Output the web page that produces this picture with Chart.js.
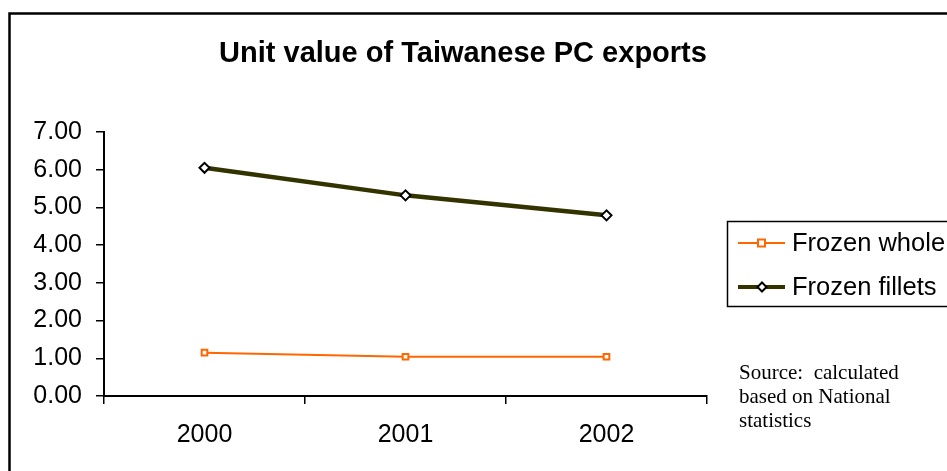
<!DOCTYPE html>
<html>
<head>
<meta charset="utf-8">
<script src="https://cdn.jsdelivr.net/npm/chart.js@4.4.1/dist/chart.umd.min.js"></script>
<style>
html,body{margin:0;padding:0;background:#fff;}
#wrap{position:relative;width:947px;height:471px;}
</style>
</head>
<body>
<div id="wrap"><canvas id="c" width="947" height="471"></canvas></div>
<script>
const title = "Unit value of Taiwanese PC exports";
const categories = ["2000", "2001", "2002"];
const frozenWhole = [1.15, 1.04, 1.04];
const frozenFillets = [6.05, 5.32, 4.79];
const seriesNames = ["Frozen whole", "Frozen fillets"];
const sourceLines = ["Source:  calculated", "based on National", "statistics"];

const WHOLE = "#FF6600";
const FILLET = "#333300";

const decor = {
  id: "decor",
  beforeDraw(chart) {
    const ctx = chart.ctx;
    ctx.save();
    ctx.fillStyle = "#fff";
    ctx.fillRect(0, 0, chart.width, chart.height);
    ctx.strokeStyle = "#000";
    ctx.lineWidth = 2.5;
    ctx.strokeRect(9.5, 13.5, 1000, 1000);
    ctx.restore();
  },
  afterDraw(chart) {
    const ctx = chart.ctx;
    ctx.save();
    // title
    ctx.fillStyle = "#000";
    ctx.font = "bold 29px 'Liberation Sans', Arial, sans-serif";
    ctx.textAlign = "center";
    ctx.textBaseline = "middle";
    ctx.fillText(title, 463, 54);
    // legend box
    ctx.lineWidth = 1.5;
    ctx.strokeStyle = "#000";
    ctx.strokeRect(727.5, 221.5, 240, 85);
    const rows = [
      {y: 243, color: WHOLE, w: 2, style: "rect"},
      {y: 287, color: FILLET, w: 4, style: "rectRot"}
    ];
    rows.forEach((r, i) => {
      ctx.beginPath();
      ctx.strokeStyle = r.color;
      ctx.lineWidth = r.w;
      ctx.moveTo(738, r.y);
      ctx.lineTo(785, r.y);
      ctx.stroke();
      ctx.fillStyle = "#fff";
      ctx.lineWidth = 2;
      if (r.style === "rect") {
        ctx.strokeStyle = WHOLE;
        ctx.fillRect(758, r.y - 3.5, 7, 7);
        ctx.strokeRect(758, r.y - 3.5, 7, 7);
      } else {
        ctx.strokeStyle = "#000";
        ctx.beginPath();
        ctx.moveTo(762, r.y - 4.5);
        ctx.lineTo(766.5, r.y);
        ctx.lineTo(762, r.y + 4.5);
        ctx.lineTo(757.5, r.y);
        ctx.closePath();
        ctx.fill();
        ctx.stroke();
      }
      ctx.fillStyle = "#000";
      ctx.font = "25.5px 'Liberation Sans', Arial, sans-serif";
      ctx.textAlign = "left";
      ctx.textBaseline = "middle";
      ctx.fillText(seriesNames[i], 792, r.y + 1);
    });
    // source
    ctx.font = "21px 'Liberation Serif', 'Times New Roman', serif";
    ctx.textAlign = "left";
    ctx.textBaseline = "middle";
    sourceLines.forEach((s, i) => ctx.fillText(s, 739, 373 + i * 24));
    ctx.restore();
  }
};

new Chart(document.getElementById("c"), {
  type: "line",
  data: {
    labels: categories,
    datasets: [
      {
        label: seriesNames[0],
        data: frozenWhole,
        borderColor: WHOLE,
        borderWidth: 2,
        pointStyle: "rect",
        pointRadius: 4,
        pointBorderWidth: 2,
        pointBorderColor: WHOLE,
        pointBackgroundColor: "#fff",
        tension: 0
      },
      {
        label: seriesNames[1],
        data: frozenFillets,
        borderColor: FILLET,
        borderWidth: 4.5,
        pointStyle: "rectRot",
        pointRadius: 5,
        pointBorderWidth: 2,
        pointBorderColor: "#000",
        pointBackgroundColor: "#fff",
        tension: 0
      }
    ]
  },
  options: {
    responsive: false,
    animation: false,
    devicePixelRatio: 1,
    layout: {padding: {left: 0, right: 240, top: 132, bottom: 0}},
    plugins: {legend: {display: false}, title: {display: false}, tooltip: {enabled: false}},
    scales: {
      x: {
        offset: true,
        grid: {offset: true, drawOnChartArea: false, tickLength: 8, color: "#000", lineWidth: 1.5},
        border: {color: "#000", width: 2},
        ticks: {color: "#000", font: {family: "'Liberation Sans', Arial, sans-serif", size: 25}, padding: 16, maxRotation: 0},
        afterFit(s) { s.height = 75; }
      },
      y: {
        min: 0, max: 7,
        grid: {drawOnChartArea: false, tickLength: 8, color: "#000", lineWidth: 1.5},
        border: {color: "#000", width: 2},
        ticks: {stepSize: 1, color: "#000", padding: 14, font: {family: "'Liberation Sans', Arial, sans-serif", size: 25},
          callback: v => Number(v).toFixed(2)},
        afterFit(s) { s.width = 104; }
      }
    }
  },
  plugins: [decor]
});
</script>
</body>
</html>
